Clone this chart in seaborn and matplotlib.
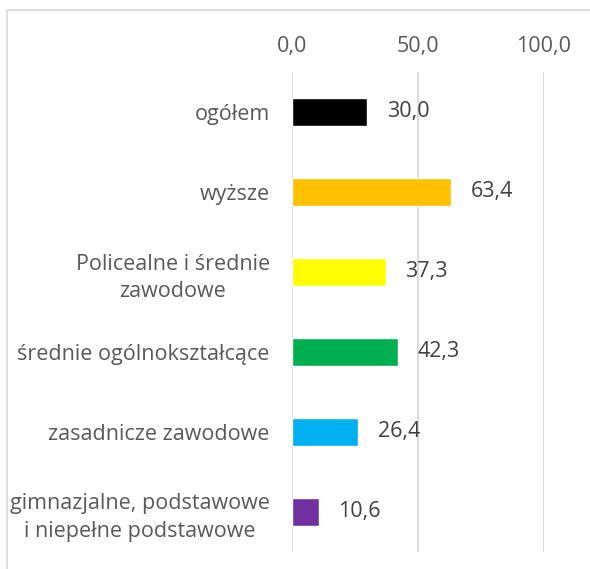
import matplotlib
matplotlib.use("Agg")
import matplotlib.pyplot as plt
import seaborn as sns
from matplotlib.patches import Rectangle

categories = ["ogółem", "wyższe", "Policealne i średnie\nzawodowe",
              "średnie ogólnokształcące", "zasadnicze zawodowe",
              "gimnazjalne, podstawowe\ni niepełne podstawowe"]
values = [30.0, 63.4, 37.3, 42.3, 26.4, 10.6]
colors = ["#000000", "#FFC000", "#FFFF00", "#00B050", "#00B0F0", "#7030A0"]
ticks = [0, 50, 100]

sns.set_style("white")
plt.rcParams["font.family"] = ["Open Sans", "DejaVu Sans"]
txt = "#595959"
fs = 15.5

fig = plt.figure(figsize=(5.9, 5.69), dpi=100)
ax = fig.add_axes([292 / 590, 17 / 569, 251.5 / 590, 480 / 569])

# chart border (cropped on the right and bottom)
fig.patches.append(Rectangle((7 / 590, -0.1), 2, 1.1 - 10 / 569, transform=fig.transFigure,
                             fill=False, edgecolor="#D9D9D9", linewidth=1.2))

sns.barplot(x=values, y=categories, hue=categories, palette=colors, legend=False,
            width=0.36, orient="h", ax=ax, saturation=1)

ax.set_xlim(0, 100)
ax.set_xticks(ticks)
ax.set_xticklabels([f"{t:.1f}".replace(".", ",") for t in ticks])
ax.xaxis.tick_top()
ax.tick_params(axis="x", length=0, pad=11, labelsize=fs, labelcolor=txt)
ax.tick_params(axis="y", length=0, pad=16, labelsize=fs, labelcolor=txt)
for lab in ax.get_yticklabels():
    lab.set_multialignment("center")
    lab.set_linespacing(1.4)
ax.set_xlabel("")
ax.set_ylabel("")
ax.grid(axis="x", color="#D9D9D9", linewidth=1.3)
ax.grid(axis="y", visible=False)
ax.set_axisbelow(True)
for s in ax.spines.values():
    s.set_visible(False)

for i, v in enumerate(values):
    ax.annotate(f"{v:.1f}".replace(".", ","), (v, i), xytext=(14, 0), textcoords="offset points",
                ha="left", va="center", fontsize=fs, color="#404040")

fig.savefig("out.png", dpi=100)
